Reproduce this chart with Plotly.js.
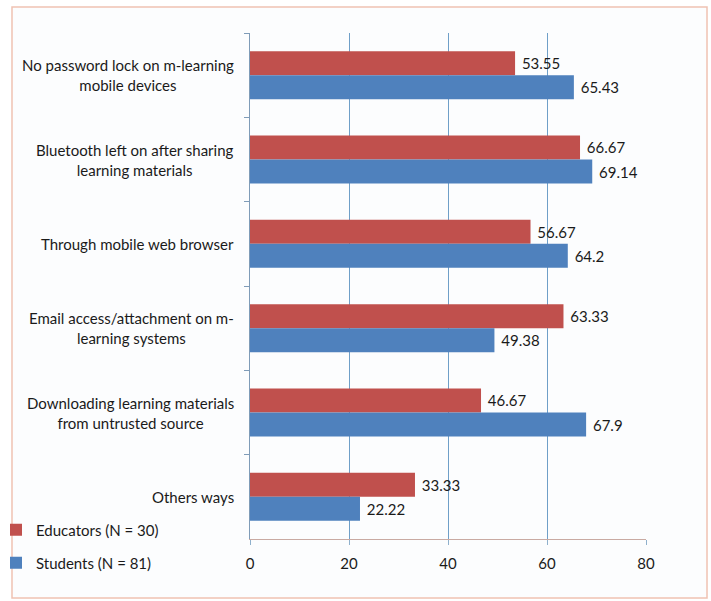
<!DOCTYPE html>
<html>
<head>
<meta charset="utf-8">
<script src="https://cdn.plot.ly/plotly-3.0.1.min.js"></script>
<style>html,body{margin:0;padding:0;background:#fff;}#chart{width:711px;height:601px;}</style>
</head>
<body>
<div id="chart"></div>
<script>
var categories = [
  'No password lock on m-learning<br>mobile devices',
  'Bluetooth left on after sharing<br>learning materials',
  'Through mobile web browser',
  'Email access/attachment on m-<br>learning systems',
  'Downloading learning materials<br>from untrusted source',
  'Others ways'
];
var educators = [53.55, 66.67, 56.67, 63.33, 46.67, 33.33];
var students = [65.43, 69.14, 64.2, 49.38, 67.9, 22.22];
var seriesNames = ['Educators (N = 30)', 'Students (N = 81)'];
var xTicks = [0, 20, 40, 60, 80];

var FONT = 'Lato, sans-serif';
var FS = 15;
var TXT = '#1a1a1a';

var traces = [
  {type:'bar', orientation:'h', name:seriesNames[0], y:categories, x:educators,
   marker:{color:'#c0504d'}, texttemplate:'\u00a0%{x}',
   textposition:'outside', cliponaxis:false, textfont:{family:FONT,size:FS,color:TXT},
   legend:'legend', hoverinfo:'x+name'},
  {type:'bar', orientation:'h', name:seriesNames[1], y:categories, x:students,
   marker:{color:'#4f81bd'}, texttemplate:'\u00a0%{x}',
   textposition:'outside', cliponaxis:false, textfont:{family:FONT,size:FS,color:TXT},
   legend:'legend2', hoverinfo:'x+name'}
];

function px2paperX(p){ return (p-250)/396; }
function px2paperY(p){ return (539-p)/506; }

var annotations = categories.map(function(c){
  return {xref:'paper', yref:'y', x:0, y:c, xanchor:'right', yanchor:'middle', xshift:-14,
    text:c, showarrow:false, align:'center', font:{family:FONT,size:FS,color:TXT}};
});

var layout = {
  width:711, height:601,
  margin:{l:250, r:65, t:33, b:62, pad:0, autoexpand:false},
  paper_bgcolor:'#ffffff', plot_bgcolor:'rgba(0,0,0,0)',
  barmode:'group', bargap:0.43, bargroupgap:0,
  font:{family:FONT, size:FS, color:TXT},
  xaxis:{range:[0,80], tickvals:xTicks, ticktext:xTicks.map(String), showgrid:true, gridcolor:'#6f9fc8', gridwidth:1,
    zeroline:false, showline:true, linecolor:'#c9aaa2', linewidth:1, ticks:'outside', ticklen:5, tickcolor:'#8fb0cc',
    ticklabelstandoff:6,
    tickfont:{family:FONT,size:FS,color:TXT}, fixedrange:true, automargin:false},
  yaxis:{type:'category', autorange:'reversed', showticklabels:false, ticks:'outside', tickson:'boundaries',
    ticklen:5, tickcolor:'#7f9cb8', showline:true, linecolor:'#7f9cb8', linewidth:1, showgrid:false, zeroline:false,
    fixedrange:true, automargin:false},
  showlegend:true,
  legend:{x:px2paperX(-4), y:px2paperY(530), xanchor:'left', yanchor:'middle', bgcolor:'rgba(0,0,0,0)',
    font:{family:FONT,size:FS,color:TXT}},
  legend2:{x:px2paperX(-4), y:px2paperY(563), xanchor:'left', yanchor:'middle', bgcolor:'rgba(0,0,0,0)',
    font:{family:FONT,size:FS,color:TXT}},
  annotations:annotations,
  shapes:[{type:'rect', xref:'paper', yref:'paper', x0:px2paperX(12), x1:px2paperX(707), y0:px2paperY(598), y1:px2paperY(7),
    line:{color:'#f0c2b2', width:1.5}, fillcolor:'#fcfdfe', layer:'below'}]
};

Plotly.newPlot('chart', traces, layout, {displayModeBar:false, staticPlot:true});
</script>
</body>
</html>
